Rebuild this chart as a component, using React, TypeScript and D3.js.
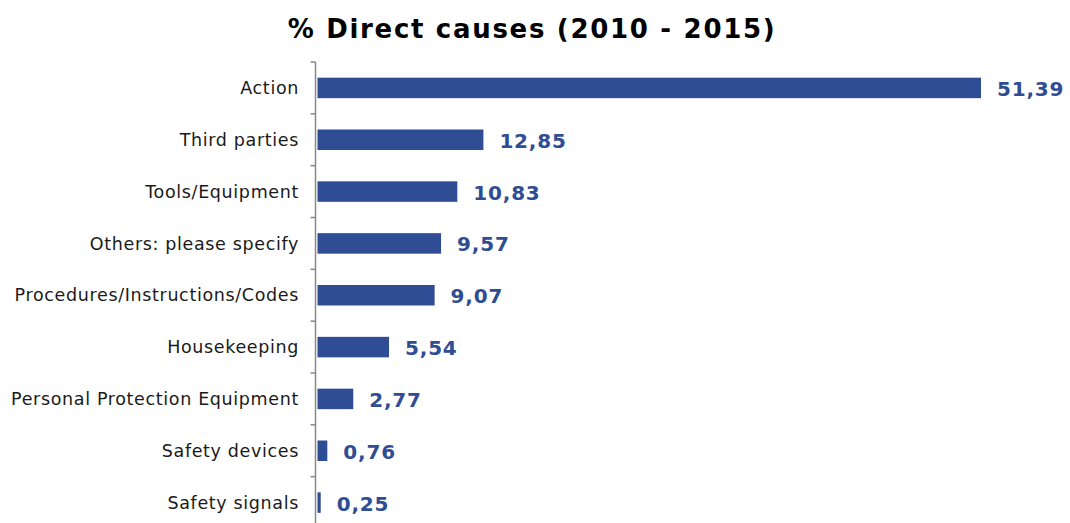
import React from "react";
import * as d3 from "d3";

const categories = [
  "Action",
  "Third parties",
  "Tools/Equipment",
  "Others: please specify",
  "Procedures/Instructions/Codes",
  "Housekeeping",
  "Personal Protection Equipment",
  "Safety devices",
  "Safety signals",
];
const values = [51.39, 12.85, 10.83, 9.57, 9.07, 5.54, 2.77, 0.76, 0.25];
const title = "% Direct causes (2010 - 2015)";

const W = 1070;
const H = 523;
const BAR = "#2F4D94";

export default function App() {
  const y = d3.scaleBand<string>().domain(categories).range([62, 528.5]).padding(0);
  const x = d3.scaleLinear().domain([0, 51.39]).range([317.5, 981]);
  const barH = 20.5;
  const axisX = 315.5;
  const fmt = (v: number) => v.toFixed(2).replace(".", ",");
  const ticks = categories.map((c) => y(c) as number).concat([528.5]);

  return (
    <svg
      width={W}
      height={H}
      style={{ position: "absolute", left: 0, top: 0, background: "#fff" }}
      fontFamily="'DejaVu Sans', Verdana, sans-serif"
    >
      <text x={532} y={38} textAnchor="middle" fontSize={26} fontWeight="bold" fill="#000" letterSpacing={1.7}>
        {title}
      </text>
      <line x1={axisX} x2={axisX} y1={62} y2={H} stroke="#888" strokeWidth={1.5} />
      {ticks.map((t, i) => (
        <line key={i} x1={axisX - 5} x2={axisX} y1={t} y2={t} stroke="#888" strokeWidth={1.5} />
      ))}
      {categories.map((c, i) => {
        const cy = (y(c) as number) + y.bandwidth() / 2;
        return (
          <g key={c}>
            <rect x={x(0)} y={cy - barH / 2} width={x(values[i]) - x(0)} height={barH} fill={BAR} />
            <text x={299} y={cy} dy="0.35em" textAnchor="end" fontSize={17.5} letterSpacing={0.65} fill="#1a1a1a">
              {c}
            </text>
            <text x={x(values[i]) + 16} y={cy + 1} dy="0.35em" fontSize={20} fontWeight="bold" letterSpacing={0.8} fill={BAR}>
              {fmt(values[i])}
            </text>
          </g>
        );
      })}
    </svg>
  );
}
